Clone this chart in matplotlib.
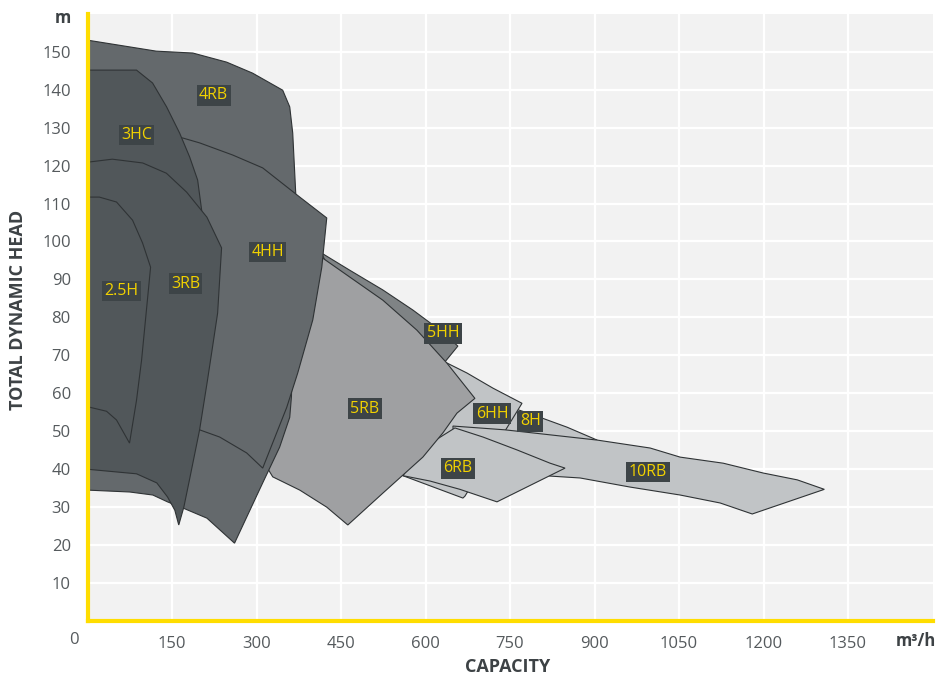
import matplotlib.pyplot as plt
from matplotlib.patches import Polygon

plt.rcParams['font.family'] = ['Open Sans', 'DejaVu Sans']

# outlines of each pump range, capacity (m3/h) vs head (m), back to front
q_8h = [740, 762.4, 803.3, 851.3, 904.6, 850, 720]
h_8h = [56, 55.7, 53.6, 51.0, 47.6, 45, 49]

q_6hh = [634.4, 673.5, 719.7, 771.3, 670, 666.4, 560, 540, 600]
h_6hh = [68.2, 65.3, 61.3, 57.3, 32.8, 32.3, 38.2, 45, 60]

q_10rb = [648.7, 741.1, 904.6, 998.8, 1052.1, 1128.5, 1199.6, 1260, 1308,
          1180, 1123.1, 1052.1, 963.2, 874.4, 821.1, 720, 650]
h_10rb = [51.3, 50.3, 47.6, 45.5, 43.1, 41.5, 38.9, 37.1, 34.6,
          28.1, 31.0, 33.1, 35.2, 37.6, 38.1, 42, 48]

q_6rb = [652.2, 702, 762.4, 821.1, 847.7, 726.9, 661.1, 607.8, 560, 590]
h_6rb = [50.8, 48.4, 45.0, 41.5, 40.2, 31.3, 34.6, 36.8, 38.2, 45]

q_5hh = [415.9, 465.6, 524.3, 577.6, 620.2, 657.5, 634.4, 560, 450]
h_5hh = [96.9, 92.4, 87.2, 81.9, 77.2, 72.4, 68.2, 75, 85]

q_5rb = [417.6, 465.6, 524.3, 584.7, 638, 687.7, 655.8, 630.9, 595.3, 524.3,
         462.1, 424.7, 376.8, 328.8, 300, 350]
h_5rb = [95.6, 90.6, 84.5, 76.6, 67.9, 58.6, 54.7, 49.5, 43.1, 33.6,
         25.2, 29.9, 34.4, 37.9, 45, 84]

q_4rb = [0, 122, 187, 247, 293, 346.5, 359, 364.3, 369.6, 368, 362, 359,
         341, 311, 261, 212, 169, 142, 116, 75, 0]
h_4rb = [153.1, 150.2, 149.7, 147.3, 144.4, 139.9, 135.5, 128.6, 112.8, 90, 59, 53.6,
         45.7, 36.3, 20.4, 27.0, 29.7, 31.3, 33.1, 33.9, 34.4]

q_4hh = [150, 168.8, 199, 257.7, 311, 376.8, 424.7, 415.9, 399.9, 373.2, 353.6,
         311, 282.6, 234.6, 199, 170, 160]
h_4hh = [127, 127.3, 126.0, 122.8, 119.4, 111.7, 106.2, 93.2, 79.3, 65.3, 56.2,
         40.2, 44.2, 48.4, 50.3, 50, 90]

q_3hc = [0, 87, 115.5, 140.4, 163.5, 181.3, 195.5, 202.6, 205, 195, 150, 0]
h_3hc = [145.2, 145.2, 141.8, 135.5, 128.6, 122.3, 116.2, 108.3, 95, 70, 50, 48]

q_3rb = [0, 44, 98, 140, 176, 212, 238, 231, 222, 213, 199, 181, 171, 162,
         155, 142, 123, 87, 0]
h_3rb = [120.9, 121.7, 120.7, 118.0, 113.0, 106.4, 98.3, 81.1, 72.2, 63.4, 50.3, 37.1, 29.9, 25.2,
         29.1, 32.6, 36.3, 38.7, 39.9]

q_25h = [0, 21, 51.5, 80, 97.7, 112, 96, 87, 74.6, 51.5, 33.8, 0]
h_25h = [111.7, 111.7, 110.4, 105.6, 99.6, 93.2, 68.7, 58.1, 46.8, 52.9, 55.2, 56.4]

shapes = [
    (q_8h, h_8h, '#c1c4c6'),
    (q_6hh, h_6hh, '#c1c4c6'),
    (q_10rb, h_10rb, '#c1c4c6'),
    (q_6rb, h_6rb, '#c1c4c6'),
    (q_5hh, h_5hh, '#7f8385'),
    (q_5rb, h_5rb, '#9fa0a2'),
    (q_4rb, h_4rb, '#64696c'),
    (q_4hh, h_4hh, '#64696c'),
    (q_3hc, h_3hc, '#51575a'),
    (q_3rb, h_3rb, '#51575a'),
    (q_25h, h_25h, '#51575a'),
]

# model name labels
names = ['4RB', '3HC', '4HH', '2.5H', '3RB', '5HH', '5RB', '6HH', '8H', '6RB', '10RB']
name_q = [224, 87, 320, 60, 174, 631, 492, 718, 786, 658, 995]
name_h = [138.6, 128.1, 97.2, 86.9, 88.8, 75.8, 55.9, 54.6, 52.5, 40.2, 39.2]

xticks = [150, 300, 450, 600, 750, 900, 1050, 1200, 1350]
yticks = [10, 20, 30, 40, 50, 60, 70, 80, 90, 100, 110, 120, 130, 140, 150]

fig = plt.figure(figsize=(9.36, 6.77), dpi=100)
ax = fig.add_axes([87.5 / 936, 56.5 / 677, 845 / 936, 606.5 / 677])
ax.set_facecolor('#f2f2f2')
ax.set_xlim(0, 1500)
ax.set_ylim(0, 160)

for q, h, c in shapes:
    ax.add_patch(Polygon(list(zip(q, h)), closed=True, facecolor=c,
                         edgecolor='#2f3335', linewidth=0.8, zorder=3))

for name, q, h in zip(names, name_q, name_h):
    ax.text(q, h, name, color='#f2d200', fontsize=11.5, ha='center', va='center', zorder=5,
            bbox=dict(boxstyle='square,pad=0.15', facecolor='#3d4447', edgecolor='none'))

ax.set_xticks(xticks)
ax.set_yticks(yticks)
ax.set_xticklabels([str(v) for v in xticks])
ax.set_yticklabels([str(v) for v in yticks])
ax.grid(True, color='white', linewidth=1.6, zorder=0)
ax.set_axisbelow(True)
ax.tick_params(length=0, labelsize=12, labelcolor='#555a5d')
ax.tick_params(axis='x', pad=11)
ax.tick_params(axis='y', pad=12)

for s in ['top', 'right']:
    ax.spines[s].set_visible(False)
for s in ['left', 'bottom']:
    ax.spines[s].set_color('#ffdd00')
    ax.spines[s].set_linewidth(3)
    ax.spines[s].set_zorder(6)

ax.annotate('0', xy=(0, 0), xytext=(-14, -20), textcoords='offset pixels',
            ha='center', va='center', fontsize=12, color='#555a5d', annotation_clip=False)
ax.annotate('m³/h', xy=(1470, 0), xytext=(0, -20), textcoords='offset pixels',
            ha='center', va='center', fontsize=12, fontweight='bold', color='#3d4245',
            annotation_clip=False)
ax.annotate('m', xy=(0, 159), xytext=(-25, 0), textcoords='offset pixels',
            ha='center', va='center', fontsize=12, fontweight='bold', color='#3d4245',
            annotation_clip=False)

fig.text(508 / 936, 1 - 667 / 677, 'CAPACITY', ha='center', va='center',
         fontsize=13, fontweight='bold', color='#3d4245')
fig.text(18 / 936, 1 - 310 / 677, 'TOTAL DYNAMIC HEAD', ha='center', va='center',
         rotation=90, fontsize=13, fontweight='bold', color='#3d4245')

fig.savefig('out.png', dpi=100)
